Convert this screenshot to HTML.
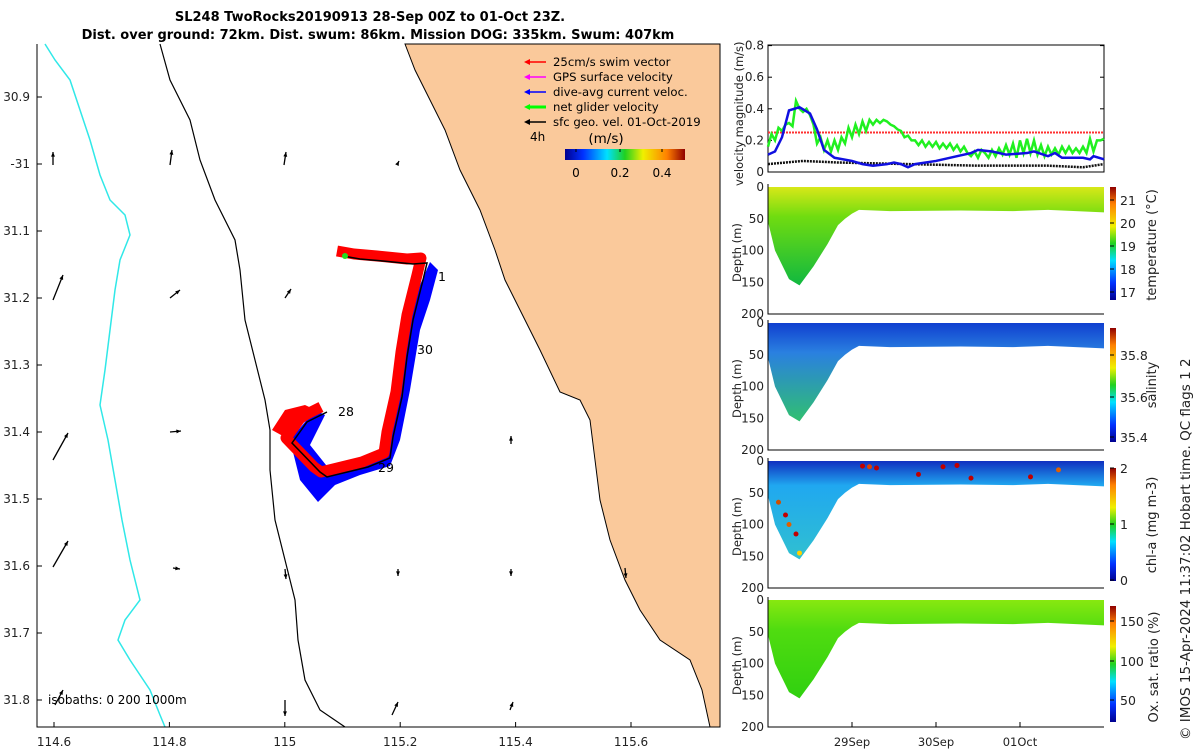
<!DOCTYPE html>
<html><head><meta charset="utf-8"><style>
body{margin:0;background:#fff;width:1200px;height:750px;overflow:hidden}
svg{font-family:"DejaVu Sans","Liberation Sans",sans-serif}
</style></head><body>
<svg id="fig" width="1200" height="750" viewBox="0 0 1200 750" xmlns="http://www.w3.org/2000/svg">
<defs>
<linearGradient id="jet" x1="0" x2="1" y1="0" y2="0"><stop offset="0" stop-color="#00008f"/><stop offset="0.15" stop-color="#0030ff"/><stop offset="0.35" stop-color="#00e0ff"/><stop offset="0.5" stop-color="#20d020"/><stop offset="0.65" stop-color="#f0f000"/><stop offset="0.85" stop-color="#ff8000"/><stop offset="1" stop-color="#900000"/></linearGradient>
<linearGradient id="jetv" x1="0" x2="0" y1="1" y2="0"><stop offset="0" stop-color="#00008f"/><stop offset="0.15" stop-color="#0030ff"/><stop offset="0.35" stop-color="#00e0ff"/><stop offset="0.5" stop-color="#20d020"/><stop offset="0.65" stop-color="#f0f000"/><stop offset="0.85" stop-color="#ff8000"/><stop offset="1" stop-color="#900000"/></linearGradient>
<linearGradient id="gT" x1="0" x2="0" y1="0" y2="1"><stop offset="0" stop-color="#d8e818"/><stop offset="0.3" stop-color="#70dc10"/><stop offset="1" stop-color="#10b840"/></linearGradient>
<linearGradient id="gS" x1="0" x2="0" y1="0" y2="1"><stop offset="0" stop-color="#1040d0"/><stop offset="0.3" stop-color="#2a80e0"/><stop offset="1" stop-color="#30c070"/></linearGradient>
<linearGradient id="gC" x1="0" x2="0" y1="0" y2="1"><stop offset="0" stop-color="#1030c0"/><stop offset="0.25" stop-color="#20a8f0"/><stop offset="1" stop-color="#30c0d0"/></linearGradient>
<linearGradient id="gO" x1="0" x2="0" y1="0" y2="1"><stop offset="0" stop-color="#88e810"/><stop offset="0.3" stop-color="#50dc10"/><stop offset="1" stop-color="#30d010"/></linearGradient>
</defs>
<g id="map"></g>
<g id="right"></g>
<text x="370" y="21" font-size="13" font-weight="bold" text-anchor="middle">SL248 TwoRocks20190913 28-Sep 00Z to 01-Oct 23Z.</text>
<text x="378" y="39" font-size="13" font-weight="bold" text-anchor="middle">Dist. over ground: 72km. Dist. swum: 86km. Mission DOG: 335km. Swum: 407km</text>
</svg>
<script>
// ---- velocity chart data (hours since 28-Sep 00Z, m/s) ----
const blueHours=[0,2,4,6,9,12,14,16,19,24,27,30,34,36,38,40,42,48,54,58,60,64,68,74,76,80,82,84,90,92,93,96];
const blueVals=[0.11,0.13,0.22,0.39,0.41,0.37,0.27,0.14,0.09,0.07,0.05,0.04,0.05,0.06,0.05,0.03,0.05,0.07,0.10,0.12,0.14,0.13,0.11,0.12,0.13,0.10,0.12,0.09,0.09,0.08,0.10,0.08];
const greenVals=[0.16,0.24,0.2,0.28,0.26,0.3,0.31,0.29,0.45,0.4,0.38,0.4,0.36,0.3,0.18,0.22,0.14,0.2,0.13,0.2,0.14,0.22,0.18,0.28,0.22,0.3,0.24,0.32,0.26,0.33,0.3,0.33,0.31,0.33,0.32,0.3,0.29,0.27,0.26,0.22,0.23,0.2,0.2,0.17,0.2,0.16,0.19,0.16,0.19,0.15,0.18,0.15,0.18,0.14,0.17,0.13,0.16,0.12,0.1,0.13,0.09,0.14,0.12,0.09,0.14,0.1,0.15,0.11,0.17,0.11,0.18,0.09,0.2,0.12,0.21,0.12,0.2,0.11,0.17,0.1,0.16,0.11,0.15,0.11,0.16,0.12,0.16,0.12,0.15,0.12,0.16,0.12,0.21,0.13,0.2,0.2,0.21];
const blackHours=[0,10,20,40,60,80,90,96];
const blackVals=[0.05,0.07,0.06,0.05,0.04,0.04,0.03,0.05];
const swimRef=0.25;
const velTicks=[0,0.2,0.4,0.6,0.8];
const dateTicks=["29Sep","30Sep","01Oct"];
const dateHours=[24,48,72];
// map ticks
const lonTicks=[114.6,114.8,115,115.2,115.4,115.6];
const latTicks=[30.9,31,31.1,31.2,31.3,31.4,31.5,31.6,31.7,31.8];

const NS="http://www.w3.org/2000/svg";
function mk(p,t,a,txt){const e=document.createElementNS(NS,t);for(const k in a)e.setAttribute(k,a[k]);if(txt!==undefined)e.textContent=txt;p.appendChild(e);return e;}
const map=document.getElementById('map'),right=document.getElementById('right');
const lx=v=>54+(v-114.6)*577, ly=v=>97+(v-30.9)*670;
const pts=a=>a.map(p=>p.join(',')).join(' ');

// land
let e=mk(map,'polygon',{points:pts([[405,44],[415,70],[430,100],[445,130],[460,170],[480,210],[495,250],[505,280],[520,310],[540,350],[560,392],[580,400],[590,420],[595,460],[600,500],[610,540],[625,580],[640,610],[660,640],[690,660],[702,690],[710,727],[720,727],[720,44]]),fill:'#fac99b',stroke:'#000','stroke-width':1});

e=mk(map,'polyline',{points:pts([[45,44],[55,60],[70,80],[80,110],[90,140],[100,175],[110,200],[125,215],[130,235],[120,260],[115,290],[110,330],[105,370],[100,405],[108,440],[115,480],[122,520],[130,560],[140,600],[125,620],[118,640],[130,660],[150,690],[160,715],[165,727]]),fill:'none',stroke:'#30e8e8','stroke-width':1.5});

e=mk(map,'polyline',{points:pts([[160,44],[170,80],[190,120],[200,160],[215,200],[235,240],[240,270],[245,320],[255,360],[265,400],[270,430],[270,470],[275,520],[285,560],[295,600],[298,640],[305,680],[320,710],[345,727]]),fill:'none',stroke:'#000','stroke-width':1.2});

// glider track
const trk=[[343,256],[360,259],[383,261],[413,264],[427,263],[423,280],[413,320],[407,357],[402,397],[393,437],[390,458],[368,467],[327,477],[320,472],[292,443],[307,422],[327,412]];
e=mk(map,'polygon',{points:pts([[290,440],[300,480],[318,502],[335,485],[360,475],[390,466],[400,440],[410,390],[420,330],[430,300],[438,270],[430,262],[420,285],[408,330],[398,400],[388,455],[365,465],[330,470],[310,445],[325,415],[315,410]]),fill:'#0000ff'});

e=mk(map,'polyline',{points:pts(trk.map(p=>[p[0]-6,p[1]-5])),fill:'none',stroke:'#ff0000','stroke-width':11,'stroke-linejoin':'round'});

e=mk(map,'polygon',{points:pts([[272,430],[285,410],[305,405],[320,412],[300,425],[290,440]]),fill:'#ff0000'});

e=mk(map,'polyline',{points:pts(trk),fill:'none',stroke:'#000','stroke-width':1.5});

e=mk(map,'circle',{cx:345,cy:256,r:3,fill:'#20e020'});
[[438,281,'1'],[417,354,'30'],[378,472,'29'],[338,416,'28']].forEach(d=>{const t=mk(map,'text',{x:d[0],y:d[1],'font-size':12.5},d[2]);});
// geostrophic arrows
const arrows=[[53,165,53,152],[170,165,172,150],[284,165,286,152],[53,300,63,275],[170,298,180,290],[285,298,291,289],[53,460,68,433],[170,432,181,431],[511,444,511,436],[53,567,68,541],[173,568,180,569],[285,569,286,579],[398,569,398,576],[511,569,511,576],[625,568,626,578],[55,705,63,690],[285,700,285,716],[392,715,398,702],[510,710,513,702],[398,163,399,161]];
arrows.forEach(a=>{const g=mk(map,'g',{});
mk(g,'line',{x1:a[0],y1:a[1],x2:a[2],y2:a[3],stroke:'#000','stroke-width':1.3});
const ang=Math.atan2(a[3]-a[1],a[2]-a[0]);mk(g,'polygon',{points:pts([[a[2],a[3]],[a[2]-5*Math.cos(ang-0.4),a[3]-5*Math.sin(ang-0.4)],[a[2]-5*Math.cos(ang+0.4),a[3]-5*Math.sin(ang+0.4)]]),fill:'#000'});});
// axes
e=mk(map,'path',{d:'M37,44 V727 H720',fill:'none',stroke:'#000','stroke-width':1});
lonTicks.forEach(v=>{mk(map,'line',{x1:lx(v),x2:lx(v),y1:727,y2:722,stroke:'#000'});const t=mk(map,'text',{x:lx(v),y:746,'font-size':12,'text-anchor':'middle',fill:'#222'},String(v));});
latTicks.forEach(v=>{mk(map,'line',{x1:37,x2:42,y1:ly(v),y2:ly(v),stroke:'#000'});const t=mk(map,'text',{x:30,y:ly(v)+4,'font-size':12,'text-anchor':'end',fill:'#222'},(v==31?'-31':String(v)));});
e=mk(map,'text',{x:48,y:704,'font-size':12},'isobaths: 0   200  1000m');e.setAttribute('xml:space','preserve');
// legend
const leg=[['#ff0000','25cm/s swim vector'],['#ff00ff','GPS surface velocity'],['#0000ff','dive-avg current veloc.'],['#00ff00','net glider velocity'],['#000000','sfc geo. vel. 01-Oct-2019']];
leg.forEach((l,i)=>{const y=62+i*15;const g=mk(map,'g',{});
mk(g,'line',{x1:527,x2:546,y1:y,y2:y,stroke:l[0],'stroke-width':i==3?3:1.5});mk(g,'polygon',{points:pts([[524,y],[530,y-3],[530,y+3]]),fill:l[0]});
mk(g,'text',{x:553,y:y+4,'font-size':11.7},l[1]);});
e=mk(map,'text',{x:530,y:141,'font-size':12},'4h');
e=mk(map,'text',{x:606,y:143,'font-size':13.5,'text-anchor':'middle'},'(m/s)');
e=mk(map,'rect',{x:565,y:149,width:120,height:11,fill:'url(#jet)'});
[['0',576],['0.2',620],['0.4',662]].forEach(d=>{mk(map,'line',{x1:d[1],x2:d[1],y1:149,y2:152,stroke:'#000'});const t=mk(map,'text',{x:d[1],y:177,'font-size':12,'text-anchor':'middle'},d[0]);});

// ---- right panels ----
const X0=768,X1=1104,tx=h=>X0+h*(X1-X0)/96;
const vy=v=>172-v*158;
e=mk(right,'rect',{x:X0,y:45,width:X1-X0,height:127,fill:'none',stroke:'#000'});
velTicks.forEach(v=>{mk(right,'line',{x1:X0,x2:X0+4,y1:vy(v),y2:vy(v),stroke:'#000'});mk(right,'line',{x1:X1,x2:X1-4,y1:vy(v),y2:vy(v),stroke:'#000'});const t=mk(right,'text',{x:X0-4,y:vy(v)+4,'font-size':12,'text-anchor':'end',fill:'#222'},String(v));});
e=mk(right,'line',{x1:X0,x2:X1,y1:vy(swimRef),y2:vy(swimRef),stroke:'#ff3030','stroke-width':2,'stroke-dasharray':'2,1'});
e=mk(right,'polyline',{points:blackHours.map((h,i)=>tx(h)+','+vy(blackVals[i])).join(' '),fill:'none',stroke:'#111','stroke-width':2.5,'stroke-dasharray':'2,1'});
e=mk(right,'polyline',{points:greenVals.map((v,i)=>tx(i)+','+vy(v)).join(' '),fill:'none',stroke:'#20f020','stroke-width':2.5});
e=mk(right,'polyline',{points:blueHours.map((h,i)=>tx(h)+','+vy(blueVals[i])).join(' '),fill:'none',stroke:'#1010e0','stroke-width':2.5});
e=mk(right,'text',{transform:'translate(743,186) rotate(-90)','font-size':11.5,fill:'#222'},'velocity magnitude (m/s)');
// sections
const panels=[{y:187,fill:'url(#gT)',name:'temperature',lab:'temperature (°C)',lc:245,ticks:[['17',292],['18',269],['19',246],['20',223],['21',200]],cb:[187,300]},
{y:323,fill:'url(#gS)',name:'salinity',lab:'salinity',lc:385,ticks:[['35.4',437],['35.6',397],['35.8',355]],cb:[328,442]},
{y:461,fill:'url(#gC)',name:'chl-a',lab:'chl-a (mg m-3)',lc:525,ticks:[['0',580],['1',524],['2',468]],cb:[468,581]},
{y:600,fill:'url(#gO)',name:'oxygen',lab:'Ox. sat. ratio (%)',lc:667,ticks:[['50',700],['100',661],['150',621]],cb:[606,722]}];
const shape=[[0,0],[96,0],[96,40],[80,36],[70,38],[55,37],[35,38],[26,36],[24,42],[22,50],[20,60],[17,90],[13,125],[9,155],[6,145],[2,100],[0,55]];
panels.forEach(p=>{const dy=d=>p.y+d*0.635;
const g=mk(right,'g',{});
mk(g,'polygon',{points:shape.map(s=>tx(s[0])+','+dy(s[1])).join(' '),fill:p.fill});
mk(g,'path',{d:`M${X0},${p.y-3} V${dy(200)} H${X1}`,fill:'none',stroke:'#000'});
[0,50,100,150,200].forEach(d=>{const t=mk(g,'text',{x:X0-4,y:dy(d)+4,'font-size':12,'text-anchor':'end',fill:'#222'},String(d));});
mk(g,'text',{transform:`translate(741,${p.y+95}) rotate(-90)`,'font-size':11.5,fill:'#222'},'Depth (m)');
const cb=mk(g,'rect',{x:1110,y:p.cb[0],width:6,height:p.cb[1]-p.cb[0],fill:'url(#jetv)'});
p.ticks.forEach(t=>{mk(g,'line',{x1:1110,x2:1114,y1:t[1],y2:t[1],stroke:'#000'});mk(g,'text',{x:1120,y:t[1]+5,'font-size':12.5,fill:'#222'},t[0]);});
const lt=mk(g,'text',{transform:`translate(${p.name=='oxygen'?1158:1156},${p.lc}) rotate(-90)`,'font-size':13,fill:'#222','text-anchor':'middle'},p.lab);});
// chl dots
const chlDots=[[27,3,'#c00000'],[29,4,'#e04000'],[31,6,'#c00000'],[43,16,'#c00000'],[50,4,'#c00000'],[54,2,'#c00000'],[58,22,'#c00000'],[75,20,'#c00000'],[83,9,'#e06000'],[8,110,'#c00000'],[6,95,'#e06000'],[9,140,'#ffd000'],[5,80,'#c00000'],[3,60,'#d05000']];
chlDots.forEach(d=>{const c=mk(right,'circle',{cx:tx(d[0]),cy:461+(d[1]+5)*0.635,r:2.5,fill:d[2]});});
dateTicks.forEach((d,i)=>{mk(right,'line',{x1:tx(dateHours[i]),x2:tx(dateHours[i]),y1:727,y2:722,stroke:'#000'});const t=mk(right,'text',{x:tx(dateHours[i]),y:746,'font-size':11.5,'text-anchor':'middle',fill:'#222'},d);});
e=mk(right,'text',{transform:'translate(1190,740) rotate(-90)','font-size':13.5,fill:'#222'},'© IMOS 15-Apr-2024 11:37:02 Hobart time. QC flags 1  2');e.setAttribute('xml:space','preserve');
</script>
</body></html>
